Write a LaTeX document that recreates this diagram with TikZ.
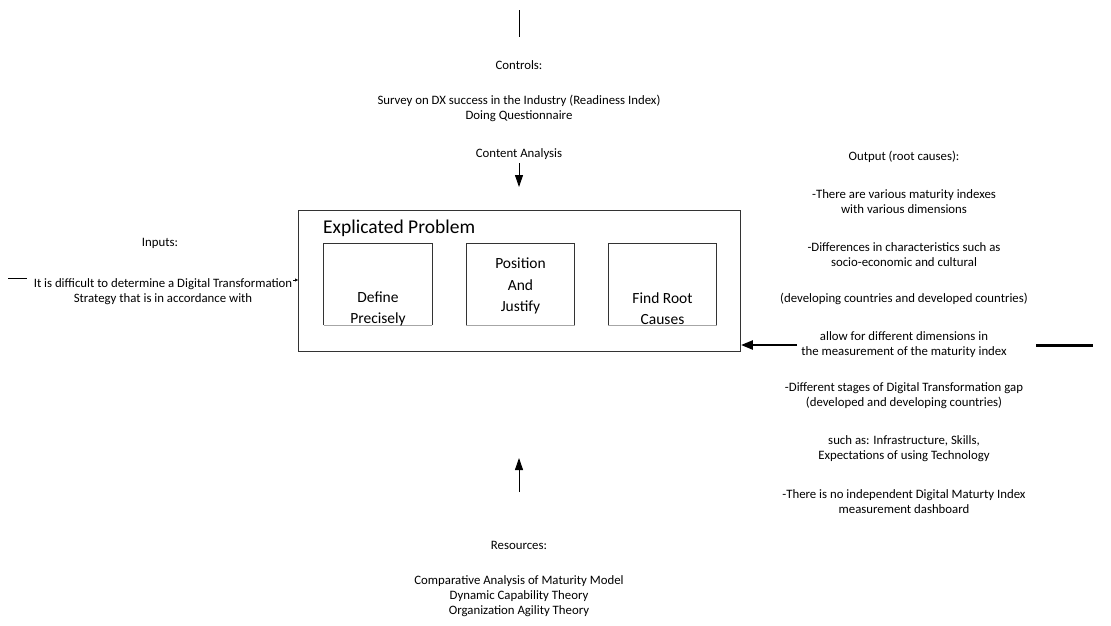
\documentclass[tikz,border=0pt]{standalone}
\usepackage{fontspec}
\setmainfont{Carlito}
\usetikzlibrary{arrows.meta}
\begin{document}
\begin{tikzpicture}[x=1pt,y=-1pt,
  txt/.style={inner sep=0pt,align=center,font=\fontsize{12.8}{15}\selectfont},
  boxtxt/.style={inner sep=0pt,align=center,font=\fontsize{15.5}{21.5}\selectfont},
  frame/.style={draw=black!80,line width=0.9pt},
  sub/.style={inner sep=0pt,minimum width=108pt,minimum height=81pt},
  feed/.style={line width=0.9pt,-{Triangle[width=8pt,length=12pt]}}]
\useasboundingbox[fill=white] (0,0) rectangle (1111,625);

% central activity box
\node[frame,inner sep=0pt,minimum width=442pt,minimum height=141pt] (box) at (519.5,280.5) {};
\node[inner sep=0pt,anchor=west,font=\fontsize{19.5}{22}\selectfont] (title) at (323,228) {Explicated Problem};

% three sub-steps, open at the bottom
\node[sub] (dp) at (378,284.5) {};
\node[sub] (pj) at (520.5,284.5) {};
\node[sub] (fr) at (662.5,284.5) {};
\foreach \b in {dp,pj,fr}{
  \draw[black!80,line width=0.8pt] (\b.south west) |- (\b.north east) -- (\b.south east);
  \draw[black!35,line width=0.8pt] (\b.south west) -- (\b.south east);
}
\begin{scope}
  \clip (dp.south west) rectangle (fr.north east);
  \node[boxtxt] (dptxt) at (378,309) {Define\\Precisely};
  \node[boxtxt] (frtxt) at (662.5,308.5) {Find Root\\Causes};
\end{scope}
\node[boxtxt] (pjtxt) at (520.5,286) {Position\\And\\Justify};

% controls (top)
\coordinate (ctop) at (519,10);
\coordinate (cbot) at (519,37);
\draw[line width=0.9pt] (ctop) -- (cbot);
\node[txt] (ctl) at (519,65) {Controls:};
\node[txt] (ctl1) at (519,108.5) {Survey on DX success in the Industry (Readiness Index)\\Doing Questionnaire};
\node[txt] (ctl2) at (519,154) {Content Analysis};
\coordinate (cin) at (519,163);
\coordinate (cend) at (519,187);
\draw[feed] (cin) -- (cend);

% inputs (left)
\node[txt] (inp) at (160,243) {Inputs:};
\node[txt] (inp1) at (163,291.5) {It is difficult to determine a Digital Transformation\\Strategy that is in accordance with};
\coordinate (ia) at (8,278.5);
\coordinate (ib) at (27,278.5);
\draw[line width=0.9pt] (ia) -- (ib);
\coordinate (itip) at (293,280);
\draw[line width=0.6pt,-{Triangle[width=3pt,length=3pt]}] (itip) -- (box.west |- itip);

% outputs (right)
\node[txt] (out) at (904,157) {Output (root causes):};
\node[txt] (o1) at (904,202) {-There are various maturity indexes\\with various dimensions};
\node[txt] (o2) at (904,254.5) {-Differences in characteristics such as\\socio-economic and cultural};
\node[txt] (o3) at (904,299) {(developing countries and developed countries)};
\node[txt] (o4) at (904,344.5) {allow for different dimensions in\\the measurement of the maturity index};
\node[txt] (o5) at (904,395.5) {-Different stages of Digital Transformation gap\\(developed and developing countries)};
\node[txt] (o6) at (904,448.5) {such as: Infrastructure, Skills,\\Expectations of using Technology};
\node[txt] (o7) at (904,501.5) {-There is no independent Digital Maturty Index\\measurement dashboard};
\coordinate (oa) at (797,345);
\draw[line width=2.4pt,-{Triangle[width=9pt,length=12pt]}] (oa) -- (box.east |- oa);
\coordinate (ob) at (1036,345);
\coordinate (oc) at (1093,345);
\draw[line width=3pt] (ob) -- (oc);

% resources (bottom)
\coordinate (rin) at (519,492);
\coordinate (rend) at (519,458);
\draw[feed] (rin) -- (rend);
\node[txt] (res) at (519,545) {Resources:};
\node[txt] (res1) at (519,596) {Comparative Analysis of Maturity Model\\Dynamic Capability Theory\\Organization Agility Theory};
\end{tikzpicture}
\end{document}
